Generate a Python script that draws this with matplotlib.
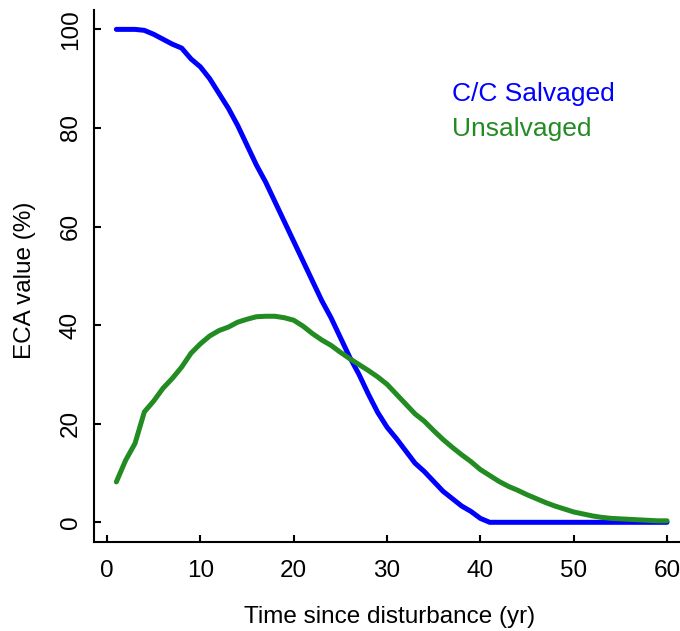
import matplotlib
matplotlib.use("Agg")
import matplotlib.pyplot as plt

plt.rcParams['font.family'] = ['Liberation Sans', 'DejaVu Sans']

# years since disturbance
years = list(range(1, 61))

# C/C salvaged ECA (%)
salvaged = [100, 100, 100, 99.8, 99.0, 98.0, 97.0, 96.2, 94.0, 92.4,
            90.0, 87.0, 84.0, 80.5, 76.5, 72.5, 69.0, 65.0, 61.0, 57.0,
            53.0, 49.0, 45.0, 41.5, 37.5, 33.5, 30.0, 26.0, 22.3, 19.3,
            17.0, 14.5, 12.0, 10.3, 8.3, 6.3, 4.8, 3.3, 2.2, 0.8,
            0, 0, 0, 0, 0, 0, 0, 0, 0, 0,
            0, 0, 0, 0, 0, 0, 0, 0, 0, 0]

# unsalvaged ECA (%)
unsalvaged = [8.2, 12.6, 16.0, 22.4, 24.6, 27.2, 29.2, 31.5, 34.3, 36.2,
              37.8, 38.9, 39.6, 40.6, 41.2, 41.7, 41.8, 41.8, 41.5, 41.0,
              39.8, 38.3, 37.0, 35.9, 34.5, 33.2, 32.0, 30.8, 29.5, 28.0,
              26.0, 24.0, 22.0, 20.5, 18.6, 16.8, 15.2, 13.7, 12.3, 10.7,
              9.5, 8.3, 7.3, 6.5, 5.6, 4.8, 4.0, 3.3, 2.7, 2.1,
              1.7, 1.3, 1.0, 0.8, 0.7, 0.6, 0.5, 0.4, 0.3, 0.3]

fig = plt.figure(figsize=(6.8, 6.31), dpi=100)
ax = fig.add_axes([0.1387, 0.141, 0.8746, 0.8437])

ax.plot(years, salvaged, color='#0000ff', lw=3.6, solid_capstyle='round',
        label='C/C Salvaged')
ax.plot(years, unsalvaged, color='#228b22', lw=3.6, solid_capstyle='round',
        label='Unsalvaged')

ax.set_xlim(-1.36, 62.36)
ax.set_ylim(-4, 104)
ax.set_xticks(range(0, 61, 10))
ax.set_yticks(range(0, 101, 20))

for side in ['top', 'right']:
    ax.spines[side].set_visible(False)
for side in ['left', 'bottom']:
    ax.spines[side].set_linewidth(1.5)

ax.tick_params(direction='in', length=4.7, width=1.5, labelsize=17.5)
ax.tick_params(axis='x', pad=13)
ax.tick_params(axis='y', pad=9, labelrotation=90)
for lab in ax.get_yticklabels():
    lab.set_va('center')

fig.text(390 / 680, 1 - 617 / 631, 'Time since disturbance (yr)',
         ha='center', va='center', fontsize=17.5)
fig.text(25 / 680, 1 - 280 / 631, 'ECA value (%)', rotation=90,
         ha='center', va='center', fontsize=17.5)

leg = ax.legend(loc='upper left', bbox_to_anchor=(452 / 680, 1 - 82 / 631),
                bbox_transform=fig.transFigure, frameon=False, fontsize=19,
                handlelength=0, handletextpad=0, borderpad=0,
                borderaxespad=0, labelspacing=0.43, labelcolor='linecolor')
for h in leg.legend_handles:
    h.set_visible(False)

fig.savefig('out.png', dpi=100)
